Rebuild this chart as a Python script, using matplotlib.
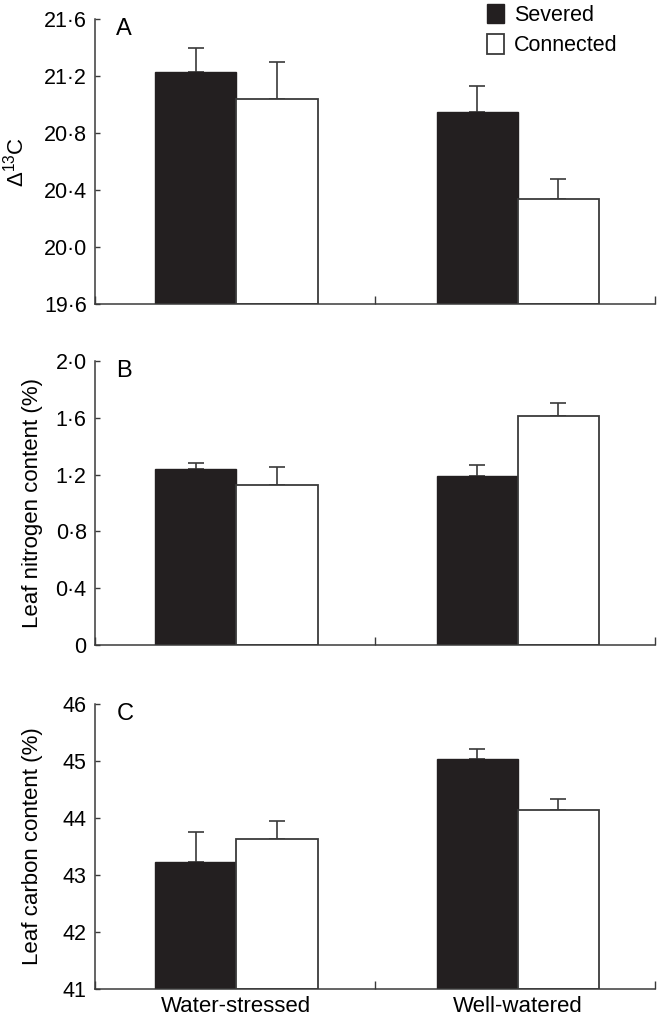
import matplotlib
matplotlib.use("Agg")
import matplotlib.pyplot as plt
from matplotlib.ticker import FuncFormatter

plt.rcParams['font.family'] = ['Liberation Sans', 'DejaVu Sans']
plt.rcParams['mathtext.fontset'] = 'custom'
plt.rcParams['mathtext.rm'] = 'Liberation Sans'

# data
groups = ['Water-stressed', 'Well-watered']

d13c_severed = [21.23, 20.945]
d13c_severed_err = [0.17, 0.185]
d13c_connected = [21.04, 20.34]
d13c_connected_err = [0.26, 0.135]

nitrogen_severed = [1.238, 1.193]
nitrogen_severed_err = [0.045, 0.075]
nitrogen_connected = [1.128, 1.613]
nitrogen_connected_err = [0.126, 0.089]

carbon_severed = [43.23, 45.03]
carbon_severed_err = [0.52, 0.18]
carbon_connected = [43.63, 44.14]
carbon_connected_err = [0.32, 0.20]

yticks_a = [19.6, 20.0, 20.4, 20.8, 21.2, 21.6]
yticks_b = [0, 0.4, 0.8, 1.2, 1.6, 2.0]
yticks_c = [41, 42, 43, 44, 45, 46]

DARK = '#231f20'
EDGE = '#3a3a3a'
W = 0.29


def dot_fmt(v, pos):
    if abs(v) < 1e-9:
        return '0'
    return f'{v:.1f}'.replace('.', '\u00b7')


def draw_panel(ax, sev, sev_err, con, con_err, yticks, letter, ylabel, fmt, label_x):
    centers = [0.505, 1.51]
    xs = [c - W / 2 for c in centers]
    xc = [c + W / 2 for c in centers]
    base = yticks[0]
    ax.bar(xs, [v - base for v in sev], W, bottom=base, color=DARK,
           edgecolor=DARK, linewidth=1.0, label='Severed', zorder=2)
    ax.bar(xc, [v - base for v in con], W, bottom=base, color='white',
           edgecolor=EDGE, linewidth=1.3, label='Connected', zorder=2)
    ax.errorbar(xs, sev, yerr=[[0] * len(sev), sev_err], fmt='none',
                ecolor=EDGE, elinewidth=1.2, capsize=6, capthick=1.2, zorder=1)
    ax.errorbar(xc, con, yerr=[[0] * len(con), con_err], fmt='none',
                ecolor=EDGE, elinewidth=1.2, capsize=6, capthick=1.2, zorder=1)

    ax.set_xlim(0, 2)
    ax.set_ylim(yticks[0], yticks[-1])
    ax.set_yticks(yticks)
    if fmt:
        ax.yaxis.set_major_formatter(FuncFormatter(dot_fmt))
    ax.set_xticks([0, 1, 2])
    ax.set_xticklabels([])
    ax.tick_params(axis='x', direction='in', length=5.5, width=1.0, color=EDGE)
    ax.tick_params(axis='y', direction='in', length=3.3, width=1.0, color=EDGE,
                   labelsize=15.5, pad=6)
    for s in ['top', 'right']:
        ax.spines[s].set_visible(False)
    for s in ['left', 'bottom']:
        ax.spines[s].set_color(EDGE)
        ax.spines[s].set_linewidth(1.1)
    ax.set_ylabel(ylabel, fontsize=16)
    ax.yaxis.set_label_coords(label_x, 0.5)
    ax.text(0.038, 1.005, letter, transform=ax.transAxes, fontsize=17,
            va='top', ha='left')


fig = plt.figure(figsize=(6.66, 10.22), dpi=100)
ax_a = fig.add_axes([0.1426, 0.7025, 0.8408, 0.2789])
ax_b = fig.add_axes([0.1426, 0.3689, 0.8408, 0.2779])
ax_c = fig.add_axes([0.1426, 0.0323, 0.8408, 0.2789])

draw_panel(ax_a, d13c_severed, d13c_severed_err, d13c_connected, d13c_connected_err,
           yticks_a, 'A', '\u0394$^{13}$C', True, -0.118)
draw_panel(ax_b, nitrogen_severed, nitrogen_severed_err, nitrogen_connected,
           nitrogen_connected_err, yticks_b, 'B', 'Leaf nitrogen content (%)', True, -0.092)
draw_panel(ax_c, carbon_severed, carbon_severed_err, carbon_connected,
           carbon_connected_err, yticks_c, 'C', 'Leaf carbon content (%)', False, -0.092)

ax_c.set_xticks([0.505, 1.51], minor=True)
ax_c.set_xticklabels(groups, minor=True, fontsize=16)
ax_c.tick_params(axis='x', which='minor', length=0, pad=5)

handles, labels = ax_a.get_legend_handles_labels()
fig.legend(handles, labels, loc='upper left', bbox_to_anchor=(474 / 666, 1.009),
           frameon=False, fontsize=15.5, handlelength=0.8, handleheight=1.0,
           handletextpad=0.45, labelspacing=0.4, borderpad=0.1)

fig.savefig('out.png', dpi=100)
